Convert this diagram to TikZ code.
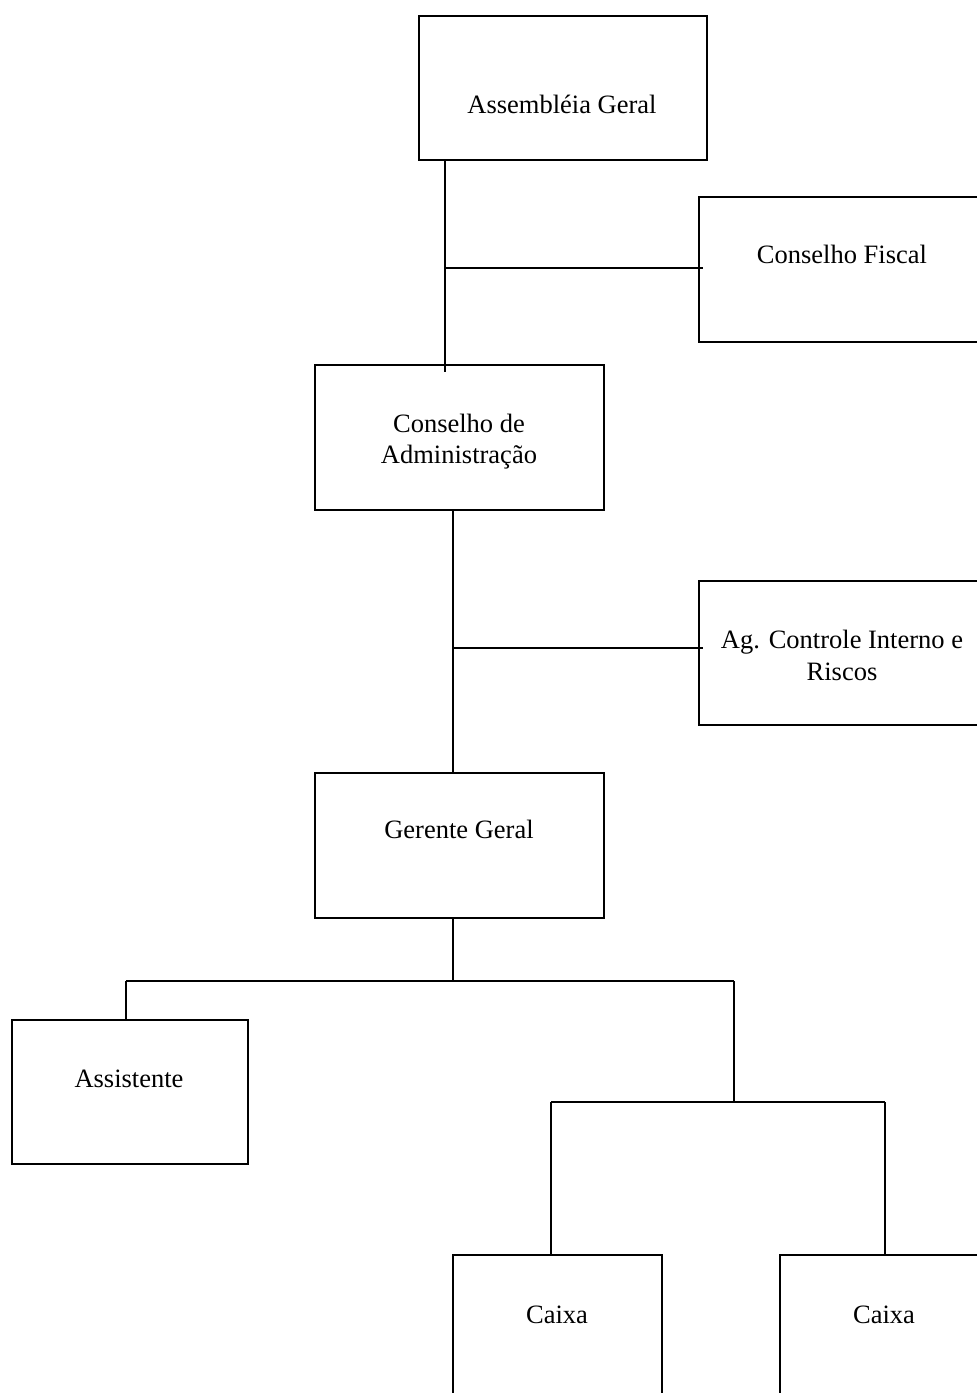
\documentclass[tikz,border=0pt]{standalone}
\usepackage{fontspec}
\setmainfont{Liberation Serif}
\begin{document}
\begin{tikzpicture}[x=1pt,y=-1pt,
  box/.style={draw=black,line width=2pt,rectangle,inner sep=0pt,anchor=north west},
  txt/.style={anchor=base,inner sep=0pt,font=\fontsize{26.5}{31}\selectfont,align=center},
  conn/.style={draw=black,line width=1.4pt}]
\useasboundingbox (0,0) rectangle (977,1393);
\clip (0,0) rectangle (977,1393);
% boxes
\node[box,minimum width=288pt,minimum height=144pt] (ag) at (418,15) {};
\node[box,minimum width=288pt,minimum height=145pt] (cf) at (698,196) {};
\node[box,minimum width=289pt,minimum height=145pt] (ca) at (314,364) {};
\node[box,minimum width=288pt,minimum height=144pt] (ci) at (698,580) {};
\node[box,minimum width=289pt,minimum height=145pt] (gg) at (314,772) {};
\node[box,minimum width=236pt,minimum height=144pt] (as) at (11,1019) {};
\node[box,minimum width=209pt,minimum height=144pt] (c1) at (452,1254) {};
\node[box,minimum width=209pt,minimum height=144pt] (c2) at (779,1254) {};
% texts
\node[txt] (tag) at (562,113) {Assembléia Geral};
\node[txt] (tcf) at (842,263) {Conselho Fiscal};
\node[txt] (tca1) at (459,432) {Conselho de};
\node[txt] (tca2) at (459,463) {Administração};
\node[txt] (tci1) at (842,648) {Ag. Controle Interno e};
\node[txt] (tci2) at (842,680) {Riscos};
\node[txt] (tgg) at (459,838) {Gerente Geral};
\node[txt] (tas) at (129,1087) {Assistente};
\node[txt] (tc1) at (557,1323) {Caixa};
\node[txt] (tc2) at (884,1323) {Caixa};
% junction coordinates
\coordinate (j1) at (445,268);
\coordinate (j2) at (453,648);
\coordinate (j3) at (453,981);
\coordinate (j4) at (126,981);
\coordinate (j5) at (734,981);
\coordinate (j6) at (551,1102);
\coordinate (j7) at (885,1102);
\coordinate (j5b) at (734,1102);
% connectors
\draw[conn] (ag.south -| j1) -- ([yshift=-8pt]ca.north -| j1);
\draw[conn] (j1) -- ([xshift=5pt]cf.west |- j1);
\draw[conn] (ca.south -| j2) -- (gg.north -| j2);
\draw[conn] (j2) -- ([xshift=5pt]ci.west |- j2);
\draw[conn] (gg.south -| j3) -- (j3);
\draw[conn] (j4) -- (j5);
\draw[conn] (j4) -- (as.north -| j4);
\draw[conn] (j5) -- (j5b);
\draw[conn] (j6) -- (j7);
\draw[conn] (j6) -- (c1.north -| j6);
\draw[conn] (j7) -- (c2.north -| j7);
\end{tikzpicture}
\end{document}
